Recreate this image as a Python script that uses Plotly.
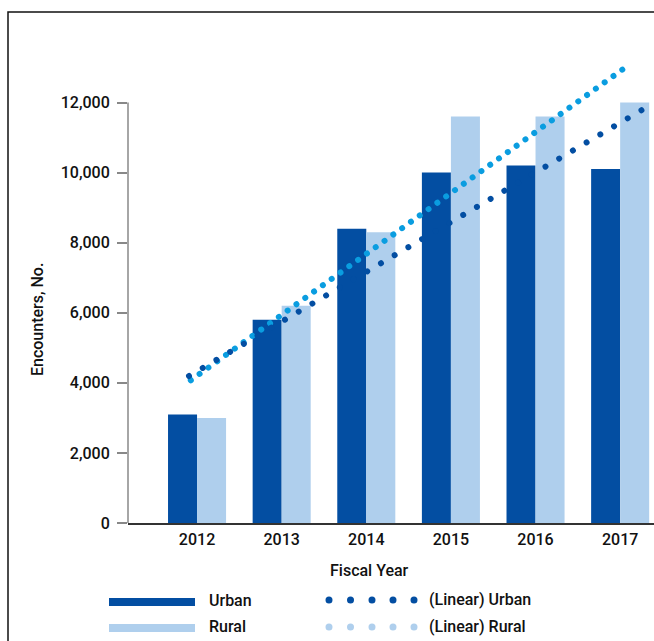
import plotly.graph_objects as go

# Encounters per fiscal year
years = [2012, 2013, 2014, 2015, 2016, 2017]
year_labels = ["2012", "2013", "2014", "2015", "2016", "2017"]
urban = [3100, 5800, 8400, 10000, 10200, 10100]
rural = [3000, 6200, 8300, 11600, 11600, 12000]

# Linear trend lines (end points)
trend_urban_years = [2011.905, 2017.256]
trend_urban_values = [4195, 11787]
trend_rural_years = [2011.926, 2017.047]
trend_rural_values = [4073, 12977]

y_ticks = [0, 2000, 4000, 6000, 8000, 10000, 12000]

URBAN = "#034ea2"
RURAL = "#afcfed"
RURAL_TREND = "#0a9de0"
FONT = "Roboto, Liberation Sans, Arial, sans-serif"
FS = 16
FW = 500
TXT = "#111"

W, H = 654, 641
ML, MR, MT, MB = 128, 0, 57, 118
PW, PH = W - ML - MR, H - MT - MB


def px(x):
    return (x - ML) / PW


def py(y):
    return (H - MB - y) / PH


def font(size=FS):
    return dict(size=size, color=TXT, family=FONT, weight=FW)


fig = go.Figure()
fig.add_bar(x=years, y=urban, name="Urban", marker_color=URBAN, marker_line_width=0)
fig.add_bar(x=years, y=rural, name="Rural", marker_color=RURAL, marker_line_width=0)
fig.add_scatter(x=trend_rural_years, y=trend_rural_values, mode="lines",
                name="(Linear) Rural",
                line=dict(color=RURAL_TREND, width=6, dash="2px,8.85px"))
fig.add_scatter(x=trend_urban_years, y=trend_urban_values, mode="lines",
                name="(Linear) Urban",
                line=dict(color=URBAN, width=6, dash="2px,13.9px"))

shapes = []
annotations = []

# outer frame
shapes.append(dict(type="rect", xref="paper", yref="paper",
                   x0=px(8), x1=px(700), y0=py(700), y1=py(12),
                   line=dict(color="#111", width=1.5), fillcolor="rgba(0,0,0,0)"))
# vertical axis line, drawn up to the top tick
shapes.append(dict(type="line", xref="paper", yref="y", x0=0, x1=0,
                   y0=0, y1=y_ticks[-1], line=dict(color="#888", width=1.5)))

# legend: bar swatches
for label, color, yy in [("Urban", URBAN, 602), ("Rural", RURAL, 628)]:
    shapes.append(dict(type="line", xref="paper", yref="paper",
                       x0=px(109), x1=px(195), y0=py(yy), y1=py(yy),
                       line=dict(color=color, width=8)))
    annotations.append(dict(text=label, xref="paper", yref="paper",
                            x=px(207), y=py(yy - 2), xanchor="left", yanchor="middle",
                            showarrow=False, font=font()))

# legend: trend swatches
for label, color, yy in [("(Linear) Urban", URBAN, 600), ("(Linear) Rural", RURAL, 627)]:
    for cx in [329, 350.5, 372, 393, 414]:
        shapes.append(dict(type="circle", xref="paper", yref="paper",
                           x0=px(cx - 3.5), x1=px(cx + 3.5),
                           y0=py(yy + 3.5), y1=py(yy - 3.5),
                           fillcolor=color, line=dict(width=0)))
    annotations.append(dict(text=label, xref="paper", yref="paper",
                            x=px(427), y=py(yy - 1), xanchor="left", yanchor="middle",
                            showarrow=False, font=font()))

annotations.append(dict(text="Fiscal Year", xref="paper", yref="paper",
                        x=px(369), y=py(570), xanchor="center", yanchor="middle",
                        showarrow=False, font=font()))
annotations.append(dict(text="Encounters, No.", xref="paper", yref="paper",
                        x=px(37), y=py(320), xanchor="center", yanchor="middle",
                        textangle=-90, showarrow=False, font=font()))

fig.update_layout(
    width=W, height=H,
    margin=dict(l=ML, r=MR, t=MT, b=MB, pad=0),
    paper_bgcolor="white", plot_bgcolor="white",
    barmode="group", bargap=0.314, bargroupgap=0,
    showlegend=False,
    font=font(),
    shapes=shapes, annotations=annotations,
    xaxis=dict(range=[2011.184, 2017.40], tickvals=years, ticktext=year_labels,
               showline=True, linecolor="#333", linewidth=1.5, ticks="",
               showgrid=False, zeroline=False, ticklabelstandoff=1,
               tickfont=font()),
    yaxis=dict(range=[0, 13300], tickvals=y_ticks,
               ticktext=[f"{v:,}" for v in y_ticks],
               showline=False, ticks="outside", ticklen=10, tickwidth=1.5,
               tickcolor="#888", showgrid=False, zeroline=False,
               ticklabelstandoff=4, tickfont=font()),
)

# turn the dashed trend strokes into round dots
post = """
var gd = document.getElementById('{plot_id}');
function roundDots() {
  gd.querySelectorAll('.scatterlayer path.js-line').forEach(function (p) {
    if (!p.getAttribute('data-dash')) p.setAttribute('data-dash', p.style.strokeDasharray);
    var d = p.getAttribute('data-dash').split(/[ ,]+/).map(parseFloat);
    if (d.length === 2 && !isNaN(d[0])) {
      p.style.strokeLinecap = 'round';
      p.style.strokeDasharray = '0.001px,' + (d[0] + d[1]) + 'px';
    }
  });
}
roundDots();
gd.on('plotly_afterplot', roundDots);
"""

fig.write_html("out.html", post_script=post)
